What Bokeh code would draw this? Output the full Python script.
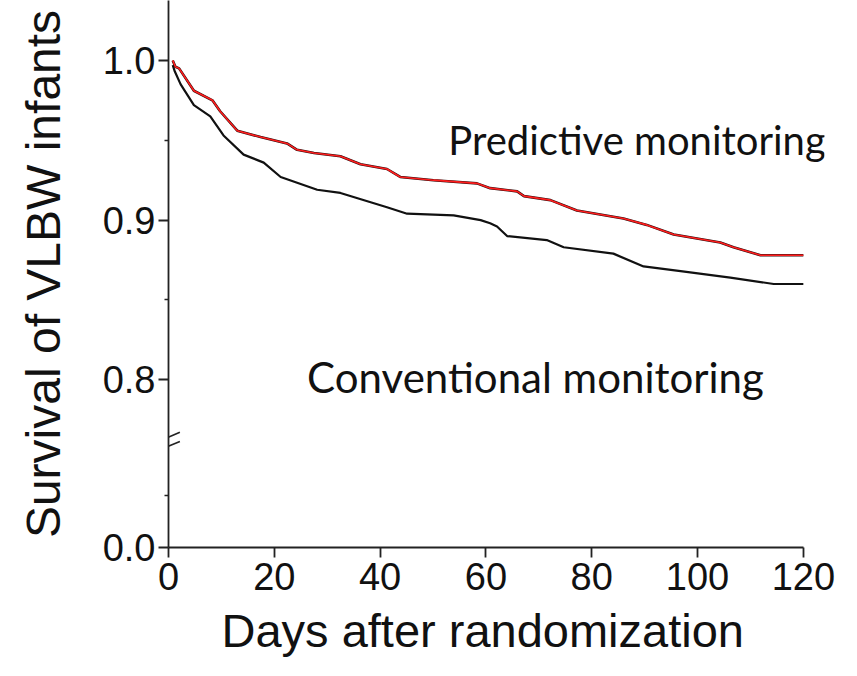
from bokeh.plotting import figure
from bokeh.models import FixedTicker, Range1d, Label, Arrow, Title
from bokeh.embed import file_html
from bokeh.resources import INLINE

# ---- data ----
days_pred = [0.8, 1.3, 2.0, 4.8, 8.3, 9.8, 13, 17.4, 22.4, 24.3, 27.5, 32.5, 36.3, 41.3, 43.8,
             50.1, 58.3, 60.8, 65.9, 67.2, 72.2, 77.2, 86, 90.4, 95.5, 104.3, 106.8, 111.9, 120]
surv_pred = [1.0, 0.996, 0.995, 0.981, 0.975, 0.968, 0.956, 0.952, 0.948, 0.944, 0.942, 0.940,
             0.935, 0.932, 0.927, 0.925, 0.923, 0.920, 0.918, 0.915, 0.9125, 0.906, 0.901, 0.897,
             0.891, 0.886, 0.883, 0.878, 0.878]

days_conv = [0.8, 1.2, 2.3, 4.8, 7.9, 10.4, 14.2, 18, 21.2, 28.1, 32.5, 41.3, 45.1, 53.9, 59,
             60.8, 62.1, 64, 71.5, 74.7, 84.1, 89.8, 96.8, 106.2, 114.4, 120]
surv_conv = [0.997, 0.993, 0.985, 0.972, 0.965, 0.953, 0.941, 0.936, 0.927, 0.919, 0.917, 0.908,
             0.904, 0.903, 0.900, 0.898, 0.896, 0.890, 0.8875, 0.883, 0.879, 0.871, 0.868, 0.864,
             0.860, 0.860]

x_ticks = [0, 20, 40, 60, 80, 100, 120]
y_zero_pos = 0.695          # where the "0.0" of the broken axis sits
y_ticks = [y_zero_pos, 0.8, 0.9, 1.0]
y_tick_labels = ["0.0", "0.8", "0.9", "1.0"]
y_minor = [0.7275, 0.85, 0.95]

TICK_FONT = "Liberation Sans"

p = figure(width=841, height=668, output_backend="svg", toolbar_location=None,
           x_range=Range1d(0, 124), y_range=Range1d(y_zero_pos, 1.0375),
           min_border_left=168, min_border_right=17, min_border_top=0, min_border_bottom=121)
p.outline_line_color = None
p.xgrid.grid_line_color = None
p.ygrid.grid_line_color = None
p.background_fill_color = "white"
p.border_fill_color = "white"

# curves
p.line(days_conv, surv_conv, line_color="#111111", line_width=2.2)
p.line(days_pred, surv_pred, line_color="#2a0a0a", line_width=2.6)
p.line(days_pred, surv_pred, line_color="#ff1e1e", line_width=1.6)

# axes
for ax in (p.xaxis[0], p.yaxis[0]):
    ax.axis_line_color = "#222222"
    ax.axis_line_width = 1.8
    ax.major_tick_line_color = "#222222"
    ax.major_tick_line_width = 1.8
    ax.major_tick_out = 10
    ax.major_tick_in = 0
    ax.major_label_text_font = TICK_FONT
    ax.major_label_text_font_size = "38px"
    ax.major_label_text_color = "#111111"
    ax.axis_label_text_font = TICK_FONT
    ax.axis_label_text_font_style = "normal"
    ax.axis_label_text_color = "#111111"

p.xaxis.ticker = FixedTicker(ticks=x_ticks)
p.xaxis.bounds = (0, 120)
p.xaxis.minor_tick_line_color = None
p.xaxis.major_label_standoff = 5

# x-axis title, centred under the 0-120 axis line (not the wider frame)
p.add_layout(Title(text="Days after randomization", align="left", offset=53,
                   text_font=TICK_FONT, text_font_size="47px", text_font_style="normal",
                   text_color="#111111", standoff=18), "below")

p.yaxis.ticker = FixedTicker(ticks=y_ticks, minor_ticks=y_minor)
p.yaxis.major_label_overrides = {t: s for t, s in zip(y_ticks, y_tick_labels)}
p.yaxis.minor_tick_line_color = "#222222"
p.yaxis.minor_tick_line_width = 1.5
p.yaxis.minor_tick_out = 4
p.yaxis.minor_tick_in = 0
p.yaxis.major_label_standoff = 3
p.yaxis.axis_label = "Survival of VLBW infants"
p.yaxis.axis_label_text_font_size = "48px"
p.yaxis.axis_label_standoff = 30

# axis-break marks
for y0, y1 in ((0.7614, 0.7671), (0.7558, 0.7614)):
    p.add_layout(Arrow(end=None, start=None, x_start=-1.85, y_start=y0, x_end=2.15, y_end=y1,
                       line_color="#222222", line_width=1.6))

# series labels
p.add_layout(Label(x=52.9, y=0.95, text="Predictive monitoring", text_font="Lato",
                   text_font_size="40px", text_color="#111111", text_baseline="alphabetic"))
p.add_layout(Label(x=26.2, y=0.8019, text="Conventional monitoring", text_font="Lato",
                   text_font_size="42px", text_color="#111111", text_baseline="alphabetic"))

open("out.html", "w").write(file_html(p, INLINE))
